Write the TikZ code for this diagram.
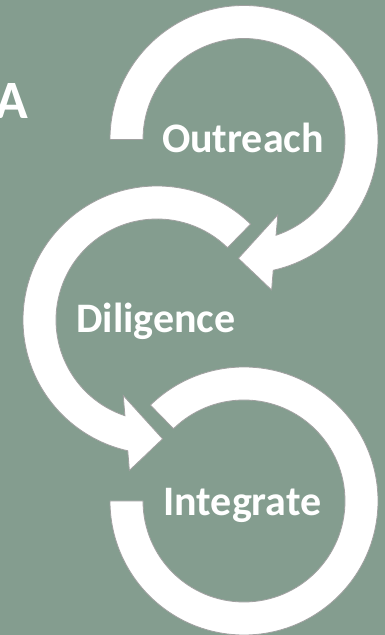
\documentclass[tikz,border=0pt]{standalone}
\usepackage{fontspec}
\setmainfont{Carlito}
\definecolor{bgcol}{RGB}{132,157,143}
\definecolor{edgecol}{RGB}{160,160,160}
\tikzset{
  ring/.style={fill=white, draw=edgecol, line width=0.8pt, line join=miter},
  lbl/.style={text=white, font=\bfseries\fontsize{42}{50}\selectfont, inner sep=0pt, anchor=base},
  biglbl/.style={text=white, font=\bfseries\fontsize{54}{60}\selectfont, inner sep=0pt, anchor=base east}
}
\begin{document}
\begin{tikzpicture}[x=1pt,y=1pt]
\useasboundingbox (0,0) rectangle (385,635);
\clip (0,0) rectangle (385,635);
\fill[bgcol] (0,0) rectangle (385,635);
% ring 1 (Outreach)
\begin{scope}[shift={(244,495.5)}]
\path[ring] (180:134pt) arc[start angle=180, end angle=-77.4, radius=134pt]
  -- (-79.6:153pt) -- (-92.7:119pt) -- (-65.9:82.7pt) -- (-71.5:101pt)
  arc[start angle=-71.5, end angle=180, radius=101pt] -- cycle;
\end{scope}
% ring 2 (Diligence)
\begin{scope}[shift={(157,315)}]
\path[ring] (45.7:134pt) arc[start angle=45.7, end angle=257.4, radius=134pt]
  -- (259.6:153pt) -- (272.7:119pt) -- (245.9:82.7pt) -- (251.5:101pt)
  arc[start angle=251.5, end angle=45.7, radius=101pt] -- cycle;
\end{scope}
% ring 3 (Integrate)
\begin{scope}[shift={(244,134)}]
\path[ring] (134.3:134pt) arc[start angle=134.3, end angle=-180, radius=134pt]
  -- (180:101pt) arc[start angle=-180, end angle=134.3, radius=101pt] -- cycle;
\end{scope}
\node[lbl] (outreach) at (243,482) {Outreach};
\node[lbl] (diligence) at (156,302) {Diligence};
\node[lbl] (integrate) at (242.5,119) {Integrate};
\node[biglbl] (a) at (28,516) {A};
\end{tikzpicture}
\end{document}
